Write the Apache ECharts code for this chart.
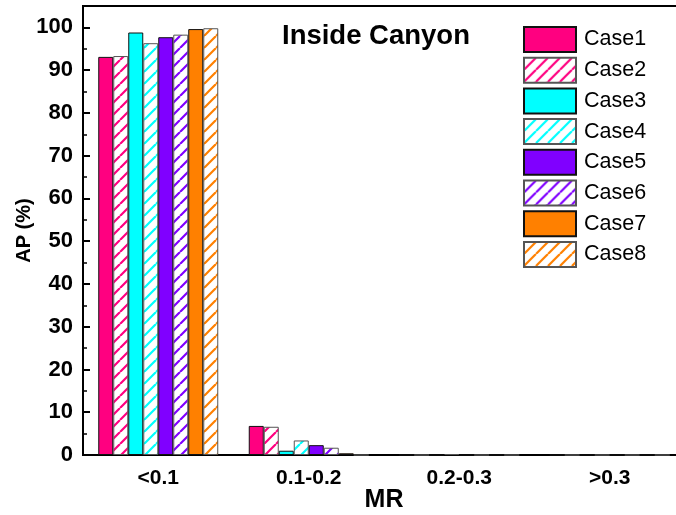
<!DOCTYPE html>
<html>
<head>
<meta charset="utf-8">
<script src="https://cdn.jsdelivr.net/npm/echarts@6/dist/echarts.min.js"></script>
<style>
html,body{margin:0;padding:0;background:#fff;}
#chart{width:676px;height:515px;}
</style>
</head>
<body>
<div id="chart"></div>
<script>
var categories = ['<0.1', '0.1-0.2', '0.2-0.3', '>0.3'];
var seriesNames = ['Case1', 'Case2', 'Case3', 'Case4', 'Case5', 'Case6', 'Case7', 'Case8'];
var case1 = [93.1, 6.8, 0, 0];
var case2 = [93.3, 6.6, 0, 0];
var case3 = [98.8, 1.0, 0, 0];
var case4 = [96.3, 3.4, 0.2, 0];
var case5 = [97.7, 2.3, 0, 0];
var case6 = [98.3, 1.7, 0, 0];
var case7 = [99.6, 0.4, 0, 0];
var case8 = [99.8, 0.0, 0, 0];
var yTicks = [0, 10, 20, 30, 40, 50, 60, 70, 80, 90, 100];
var chartTitle = 'Inside Canyon';
var xName = 'MR';
var yName = 'AP (%)';

var allData = [case1, case2, case3, case4, case5, case6, case7, case8];
var baseColors = ['#FF0080', '#FF0080', '#00FFFF', '#00FFFF', '#8000FF', '#8000FF', '#FF8000', '#FF8000'];
var hatched = [false, true, false, true, false, true, false, true];

function makePattern(color) {
  var s = 12;
  var c = document.createElement('canvas');
  c.width = s; c.height = s;
  var ctx = c.getContext('2d');
  ctx.fillStyle = '#fff';
  ctx.fillRect(0, 0, s, s);
  ctx.strokeStyle = color;
  ctx.lineWidth = 2.2;
  ctx.beginPath();
  for (var k = -1; k <= 1; k++) {
    ctx.moveTo(k * s, s);
    ctx.lineTo(k * s + s, 0);
  }
  ctx.stroke();
  return { image: c, repeat: 'repeat' };
}

var FONT = '"Liberation Sans", Arial, sans-serif';

var series = allData.map(function (d, i) {
  return {
    name: seriesNames[i],
    type: 'bar',
    data: d,
    barWidth: 15,
    barGap: '0%',
    itemStyle: {
      color: hatched[i] ? makePattern(baseColors[i]) : baseColors[i],
      borderColor: hatched[i] ? '#555' : '#111',
      borderWidth: 1
    }
  };
});

var chart = echarts.init(document.getElementById('chart'), null, { renderer: 'canvas' });
chart.setOption({
  animation: false,
  backgroundColor: '#fff',
  title: {
    text: chartTitle,
    left: 282,
    top: 22,
    padding: 0,
    textStyle: { fontFamily: FONT, fontSize: 27.5, fontWeight: 'bold', color: '#000' }
  },
  legend: {
    orient: 'vertical',
    left: 523,
    top: 26,
    padding: 0,
    itemWidth: 52,
    itemHeight: 25,
    itemGap: 3.7,
    icon: 'rect',
    data: seriesNames,
    textStyle: { fontFamily: FONT, fontSize: 21.5, color: '#000', padding: [0, 0, 0, 3] }
  },
  grid: {
    left: 83,
    top: 6,
    right: -9,
    bottom: 60,
    show: true,
    borderColor: '#000',
    borderWidth: 2,
    containLabel: false,
    outerBoundsMode: 'none'
  },
  xAxis: {
    type: 'category',
    data: categories,
    name: xName,
    nameLocation: 'middle',
    nameGap: 33,
    nameMoveOverlap: false,
    nameTextStyle: { fontFamily: FONT, fontSize: 25, fontWeight: 'bold', color: '#000' },
    axisLine: { lineStyle: { color: '#000', width: 2 } },
    axisTick: { show: false },
    axisLabel: { fontFamily: FONT, fontSize: 21, fontWeight: 'bold', color: '#000', margin: 13 },
    splitLine: { show: false }
  },
  yAxis: {
    type: 'value',
    min: 0,
    max: 105,
    interval: 10,
    name: yName,
    nameLocation: 'middle',
    nameGap: 49,
    nameMoveOverlap: false,
    nameTextStyle: { fontFamily: FONT, fontSize: 20, fontWeight: 'bold', color: '#000' },
    axisLine: { show: true, lineStyle: { color: '#000', width: 2 } },
    axisTick: { show: true, inside: true, length: 7, lineStyle: { color: '#000', width: 2 } },
    minorTick: { show: true, splitNumber: 2, length: 4, lineStyle: { color: '#000', width: 1.5 } },
    axisLabel: {
      fontFamily: FONT, fontSize: 22, fontWeight: 'bold', color: '#000', margin: 10,
      showMaxLabel: false,
      formatter: function (v) { return yTicks.indexOf(v) >= 0 ? String(v) : ''; }
    },
    splitLine: { show: false }
  },
  series: series
});
</script>
</body>
</html>
